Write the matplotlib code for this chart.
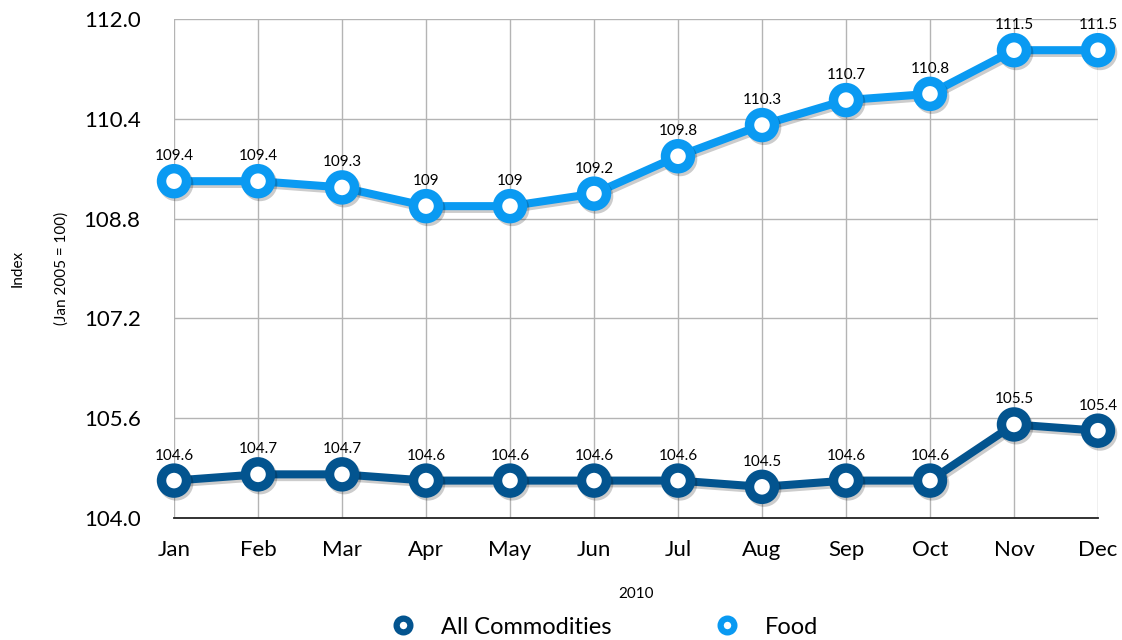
import numpy as np
import matplotlib
matplotlib.use('Agg')
import matplotlib.pyplot as plt
import matplotlib.patheffects as pe

plt.rcParams['font.family'] = ['Lato', 'DejaVu Sans']

# data
months = ['Jan', 'Feb', 'Mar', 'Apr', 'May', 'Jun',
          'Jul', 'Aug', 'Sep', 'Oct', 'Nov', 'Dec']
all_commodities = [104.6, 104.7, 104.7, 104.6, 104.6, 104.6,
                   104.6, 104.5, 104.6, 104.6, 105.5, 105.4]
food = [109.4, 109.4, 109.3, 109.0, 109.0, 109.2,
        109.8, 110.3, 110.7, 110.8, 111.5, 111.5]
yticks = [104.0, 105.6, 107.2, 108.8, 110.4, 112.0]

c_all = '#03548f'
c_food = '#0a9af2'

fig = plt.figure(figsize=(11.22, 6.4), dpi=100)
ax = fig.add_axes([0.1551, 0.1906, 0.8235, 0.7797])

x = np.arange(len(months))
shadow = [pe.SimpleLineShadow(offset=(1.5, -2), alpha=0.2, shadow_color='k'), pe.Normal()]

for vals, col, name in [(all_commodities, c_all, 'All Commodities'), (food, c_food, 'Food')]:
    ax.plot(x, vals, color=col, lw=5.8, marker='o', ms=18, mew=6.8,
            mfc='white', mec=col, label=name, zorder=3, clip_on=False,
            path_effects=shadow)
    for xi, v in zip(x, vals):
        ax.annotate('{:g}'.format(v), (xi, v), xytext=(0, 13), textcoords='offset points',
                    ha='center', va='bottom', fontsize=11, color='black', zorder=4)

ax.set_xlim(0, 11)
ax.set_ylim(104.0, 112.0)
ax.set_xticks(x)
ax.set_xticklabels(months, fontsize=16)
ax.set_yticks(yticks)
ax.set_yticklabels(['{:.1f}'.format(t) for t in yticks], fontsize=16)
ax.tick_params(length=0, pad=16)
ax.tick_params(axis='y', pad=24)
ax.grid(True, color='#b4b4b4', lw=1)
ax.set_axisbelow(True)
for s in ['top', 'right', 'left']:
    ax.spines[s].set_visible(False)
ax.spines['bottom'].set_color('#222222')
ax.spines['bottom'].set_linewidth(1.3)

ax.set_xlabel('2010', fontsize=11, labelpad=19)
fig.text(0.016, 0.58, 'Index', rotation=90, ha='center', va='center', fontsize=11)
fig.text(0.055, 0.58, '(Jan 2005 = 100)', rotation=90, ha='center', va='center', fontsize=11)

handles, labels = ax.get_legend_handles_labels()
leg = fig.legend(handles, labels, loc='center', bbox_to_anchor=(0.538, 0.02), ncol=2,
                 frameon=False, fontsize=17, columnspacing=4.3, handlelength=1.2,
                 handletextpad=1.0, markerscale=0.55)
for h in leg.legend_handles:
    h.set_linewidth(0)
    h.set_path_effects([])
    h.set_markeredgewidth(4.5)

fig.savefig('out.png', dpi=100)
